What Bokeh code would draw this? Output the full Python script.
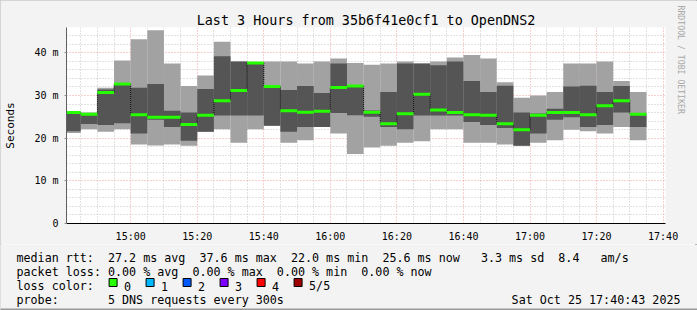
import math
from bokeh.plotting import figure
from bokeh.layouts import column
from bokeh.models import Range1d, FixedTicker, Title
from bokeh.core.properties import value
from bokeh.embed import file_html
from bokeh.resources import INLINE

# ---------------- data ----------------
title_text = "Last 3 Hours from 35b6f41e0cf1 to OpenDNS2"
range_start = "14:40:43"
range_end = "17:40:43"
# end time of each 5-minute step
step_ends = ["14:45", "14:50", "14:55", "15:00", "15:05", "15:10", "15:15", "15:20",
             "15:25", "15:30", "15:35", "15:40", "15:45", "15:50", "15:55", "16:00",
             "16:05", "16:10", "16:15", "16:20", "16:25", "16:30", "16:35", "16:40",
             "16:45", "16:50", "16:55", "17:00", "17:05", "17:10", "17:15", "17:20",
             "17:25", "17:30", "17:35"]
step_minutes = 5
# sorted 5 pings per step (ms)
ping_min = [21.2, 22.1, 21.5, 22.1, 18.5, 18.3, 18.5, 18.2, 21.5, 22.1, 18.9, 22.1,
            22.9, 18.9, 19.5, 22.6, 21.1, 16.3, 17.8, 18.2, 18.9, 19.3, 22.1, 22.1,
            18.9, 18.9, 18.5, 18.2, 18.9, 19.5, 22.0, 21.6, 21.1, 22.6, 19.5]
ping_low = [21.6, 23.3, 23.1, 23.5, 21.1, 24.3, 22.6, 19.4, 21.5, 25.3, 25.3, 25.3,
            22.9, 21.5, 22.6, 22.6, 25.9, 25.4, 25.0, 22.6, 22.1, 25.3, 25.3, 25.3,
            23.8, 23.1, 22.4, 18.2, 21.1, 24.3, 24.9, 22.6, 23.1, 26.0, 22.6]
median = [26.0, 25.6, 30.7, 32.7, 25.5, 24.9, 24.9, 23.2, 25.4, 28.8, 31.2, 37.6,
          32.1, 26.4, 26.1, 26.3, 31.9, 32.2, 26.1, 23.4, 25.7, 30.3, 26.6, 26.0,
          25.5, 25.4, 23.4, 22.0, 25.4, 26.0, 26.0, 25.5, 27.6, 28.8, 25.6]
ping_high = [26.2, 25.8, 31.4, 32.9, 31.8, 32.7, 26.4, 26.0, 31.5, 39.2, 38.0, 37.8,
             32.3, 31.3, 32.2, 30.6, 37.5, 32.4, 26.5, 30.8, 37.5, 37.5, 37.1, 38.0,
             33.4, 30.8, 32.3, 26.0, 25.8, 26.9, 32.1, 32.3, 30.8, 32.2, 25.8]
ping_max = [26.3, 26.0, 31.8, 38.2, 43.2, 45.3, 37.5, 32.2, 34.7, 42.6, 38.0, 37.8,
            38.0, 38.0, 37.5, 38.0, 38.7, 37.6, 37.2, 37.5, 38.0, 37.5, 38.0, 38.9,
            39.5, 38.7, 33.1, 29.5, 30.0, 30.8, 37.5, 37.5, 38.0, 33.4, 30.8]
y_top = 45.94
x_tick_labels = ["15:00", "15:20", "15:40", "16:00", "16:20", "16:40", "17:00", "17:20", "17:40"]
y_tick_values = [0, 10, 20, 30, 40]
y_tick_labels = ["0", "10 m", "20 m", "30 m", "40 m"]
legend_line1 = "median rtt:  27.2 ms avg  37.6 ms max  22.0 ms min  25.6 ms now   3.3 ms sd  8.4   am/s"
legend_line2 = "packet loss: 0.00 % avg  0.00 % max  0.00 % min  0.00 % now"
loss_label = "loss color:"
loss_names = ["0", "1", "2", "3", "4", "5/5"]
loss_colors = ["#26ff00", "#00b8ff", "#0059ff", "#7e00ff", "#ff0000", "#a00000"]
probe_text = "probe:       5 DNS requests every 300s"
date_text = "Sat Oct 25 17:40:43 2025"
side_text = "RRDTOOL / TOBI OETIKER"


def to_min(s):
    parts = [float(v) for v in s.split(":")]
    while len(parts) < 3:
        parts.append(0.0)
    return parts[0] * 60 + parts[1] + parts[2] / 60.0


def nb(s):
    return s.replace(" ", "\u00a0")


ends = [to_min(s) for s in step_ends]
starts = [e - step_minutes for e in ends]
x0 = to_min(range_start)
x1 = to_min(range_end)

W, H = 697, 310
FL, FR, FT, FB = 66, 666, 27, 228
TOP_H = 244            # height of the chart part; the legend part fills the rest
MONO = "DejaVu Sans Mono"
BG = "#f3f3f3"
LEG_FS = "11.7px"

p = figure(width=W, height=TOP_H, output_backend="svg", toolbar_location=None,
           x_range=Range1d(x0, x1), y_range=Range1d(0, y_top),
           min_border_left=FL, min_border_right=W - FR,
           min_border_top=FT, min_border_bottom=TOP_H - FB,
           background_fill_color="white", border_fill_color=BG,
           outline_line_color=None, frame_align=False)

# grid
x_major = [to_min(s) for s in x_tick_labels]
x_minor = [m for m in range(int(math.ceil(x0 / 5.0)) * 5, int(x1) + 1, 5) if m not in x_major]
y_minor = [v for v in range(0, int(y_top) + 1, 2) if v not in y_tick_values]

p.xaxis.ticker = FixedTicker(ticks=x_major, minor_ticks=x_minor)
p.yaxis.ticker = FixedTicker(ticks=y_tick_values, minor_ticks=y_minor)
p.xgrid.ticker = FixedTicker(ticks=x_major, minor_ticks=x_minor)
p.ygrid.ticker = FixedTicker(ticks=y_tick_values, minor_ticks=y_minor)
for g in (p.xgrid, p.ygrid):
    g.grid_line_color = "#f0a0a0"
    g.grid_line_dash = "1 2"
    g.grid_line_width = 1
    g.minor_grid_line_color = "#c4c4c4"
    g.minor_grid_line_dash = "1 2"
    g.minor_grid_line_width = 1

p.xaxis.major_label_overrides = {v: s for v, s in zip(x_major, x_tick_labels)}
p.yaxis.major_label_overrides = {v: s for v, s in zip(y_tick_values, y_tick_labels)}

for ax in (p.xaxis, p.yaxis):
    ax.major_label_text_font = MONO
    ax.major_label_text_font_size = "10px"
    ax.major_label_text_color = "#000000"
    ax.minor_tick_line_color = None
    ax.major_tick_in = 0

p.xaxis.axis_line_color = "black"
p.xaxis.major_tick_out = 0
p.xaxis.major_tick_line_color = None
p.xaxis.major_label_standoff = 3
p.yaxis.axis_line_color = "#606060"
p.yaxis.major_tick_out = 2
p.yaxis.major_tick_line_color = "#909090"
p.yaxis.major_label_standoff = 4
p.yaxis.axis_label = "Seconds"
p.yaxis.axis_label_text_font = MONO
p.yaxis.axis_label_text_font_size = "11px"
p.yaxis.axis_label_text_font_style = "normal"
p.yaxis.axis_label_text_color = "#000000"
p.yaxis.axis_label_standoff = 14

# smoke
p.quad(left=starts, right=ends, bottom=ping_min, top=ping_max,
       fill_color="#a2a2a2", line_color=None)
p.quad(left=starts, right=ends, bottom=ping_low, top=ping_high,
       fill_color="#555555", line_color=None)
# median step connectors
p.segment(x0=ends[:-1], x1=ends[:-1], y0=median[:-1], y1=median[1:],
          line_color="black", line_width=1, line_dash="1 1")
# median line (loss colour 0)
p.segment(x0=starts, x1=ends, y0=median, y1=median,
          line_color=loss_colors[0], line_width=3)

# title (above) and side text (right)
p.title = Title(text=title_text, align="center", offset=348.5 - (FL + FR) / 2.0,
                text_font=MONO, text_font_size="13.4px", text_font_style="normal",
                text_color="#000000", standoff=0)
p.add_layout(Title(text=side_text, align="left", offset=-22, standoff=20,
                   text_font=MONO, text_font_size="8.2px", text_font_style="normal",
                   text_color="#a8a8a8"), "right")

# ---------------- legend block (canvas pixel coordinates) ----------------
LH = H - TOP_H
q = figure(width=W, height=LH, output_backend="svg", toolbar_location=None,
           x_range=Range1d(0, W), y_range=Range1d(H, TOP_H),
           min_border=0, min_border_left=0, min_border_right=0,
           min_border_top=0, min_border_bottom=0, frame_align=False,
           background_fill_color=BG, border_fill_color=BG, outline_line_color=None)
q.axis.visible = False
q.grid.visible = False

CHW = 7.045
base = [257.7, 271.6, 285.5, 299.3]
left_x = 16


def leg_text(x, y, txt, align="left"):
    q.text(x=[x], y=[y], text=[nb(txt)], text_font=value(MONO), text_font_size=LEG_FS,
           text_color="#000000", text_align=align, text_baseline="alphabetic")


leg_text(left_x, base[0], legend_line1)
leg_text(left_x, base[1], legend_line2)
leg_text(left_x, base[2], loss_label)
sw_left = [left_x + 13 * CHW + 1 + 37.0 * i for i in range(len(loss_names))]
q.quad(left=sw_left, right=[v + 8 for v in sw_left],
       top=[base[2] - 7.5] * len(sw_left), bottom=[base[2] + 0.5] * len(sw_left),
       fill_color=loss_colors, line_color="black", line_width=1)
for xs, nm in zip(sw_left, loss_names):
    leg_text(xs + 15, base[2], nm)
leg_text(left_x, base[3], probe_text)
leg_text(680, base[3], date_text, align="right")
# lower canvas edge shade
q.quad(left=[0], right=[W], top=[H - 2], bottom=[H], fill_color="#999999", line_color=None)

page = column(p, q, spacing=0,
              styles={"outline": "2px outset #cbcbcb", "outline-offset": "-2px"})
open("out.html", "w").write(file_html(page, INLINE))
